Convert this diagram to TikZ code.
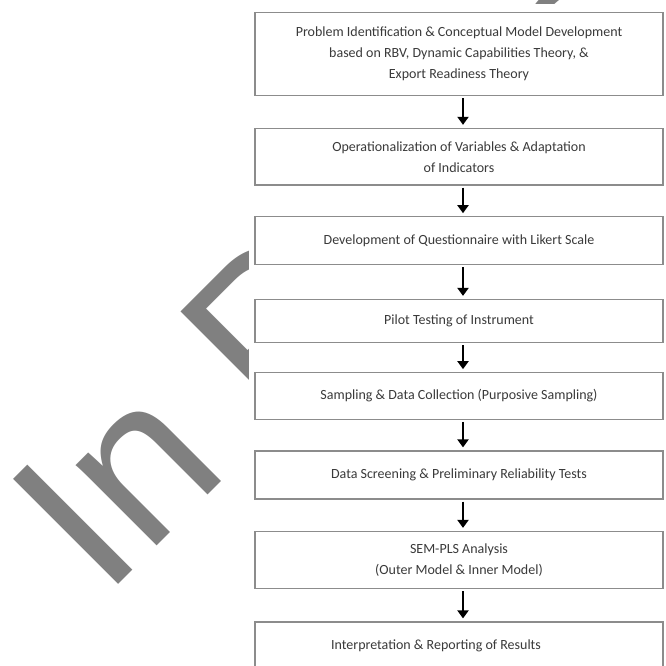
\documentclass[tikz,border=0pt]{standalone}
\usepackage{fontspec}
\setmainfont{Carlito}
\newfontfamily\wmfont{Liberation Sans}
\usetikzlibrary{arrows.meta}
\definecolor{wm}{HTML}{808080}
\definecolor{boxline}{HTML}{8C8C8C}
\definecolor{txt}{HTML}{3A3A3A}
\begin{document}
\begin{tikzpicture}[x=1pt,y=1pt,
  stepbox/.style={draw=boxline, line width=1.2pt, fill=white, minimum width=408pt,
    inner sep=0pt, align=center, text=txt, font=\fontsize{14}{21}\selectfont},
  flow/.style={-{Triangle[length=8pt,width=11pt]}, line width=2.6pt, draw=black,
    shorten <=2pt, shorten >=3pt}]
\useasboundingbox (0,0) rectangle (665,666);
\fill[white] (0,0) rectangle (665,666);
% watermark
\node[text=wm, anchor=base west, rotate=45, inner sep=0pt,
  font=\wmfont\fontsize{216}{216}\selectfont] (wmark) at (104,67) {In Press};
\fill[white] (249,0) rectangle (665,661.5);
% steps
\node[stepbox, minimum height=83pt] (b1) at (459,611.8)
  {Problem Identification \& Conceptual Model Development\\based on RBV, Dynamic Capabilities Theory, \&\\Export Readiness Theory};
\node[stepbox, minimum height=56.5pt] (b2) at (459,509.3)
  {Operationalization of Variables \& Adaptation\\of Indicators};
\node[stepbox, minimum height=48pt] (b3) at (459,425.2)
  {Development of Questionnaire with Likert Scale};
\node[stepbox, minimum height=43pt] (b4) at (459,345)
  {Pilot Testing of Instrument};
\node[stepbox, minimum height=46.5pt] (b5) at (459,270)
  {Sampling \& Data Collection (Purposive Sampling)};
\node[stepbox, minimum height=48pt] (b6) at (459,191)
  {Data Screening \& Preliminary Reliability Tests};
\node[stepbox, minimum height=57pt] (b7) at (459,106)
  {SEM-PLS Analysis\\(Outer Model \& Inner Model)};
\node[stepbox, minimum height=48pt] (b8) at (459,20)
  {\hspace*{-46pt}Interpretation \& Reporting of Results};
% arrows
\foreach \a/\b in {b1/b2,b2/b3,b3/b4,b4/b5,b5/b6,b6/b7,b7/b8}
  \draw[flow] ([xshift=4pt]\a.south) -- ([xshift=4pt]\b.north);
\end{tikzpicture}
\end{document}
